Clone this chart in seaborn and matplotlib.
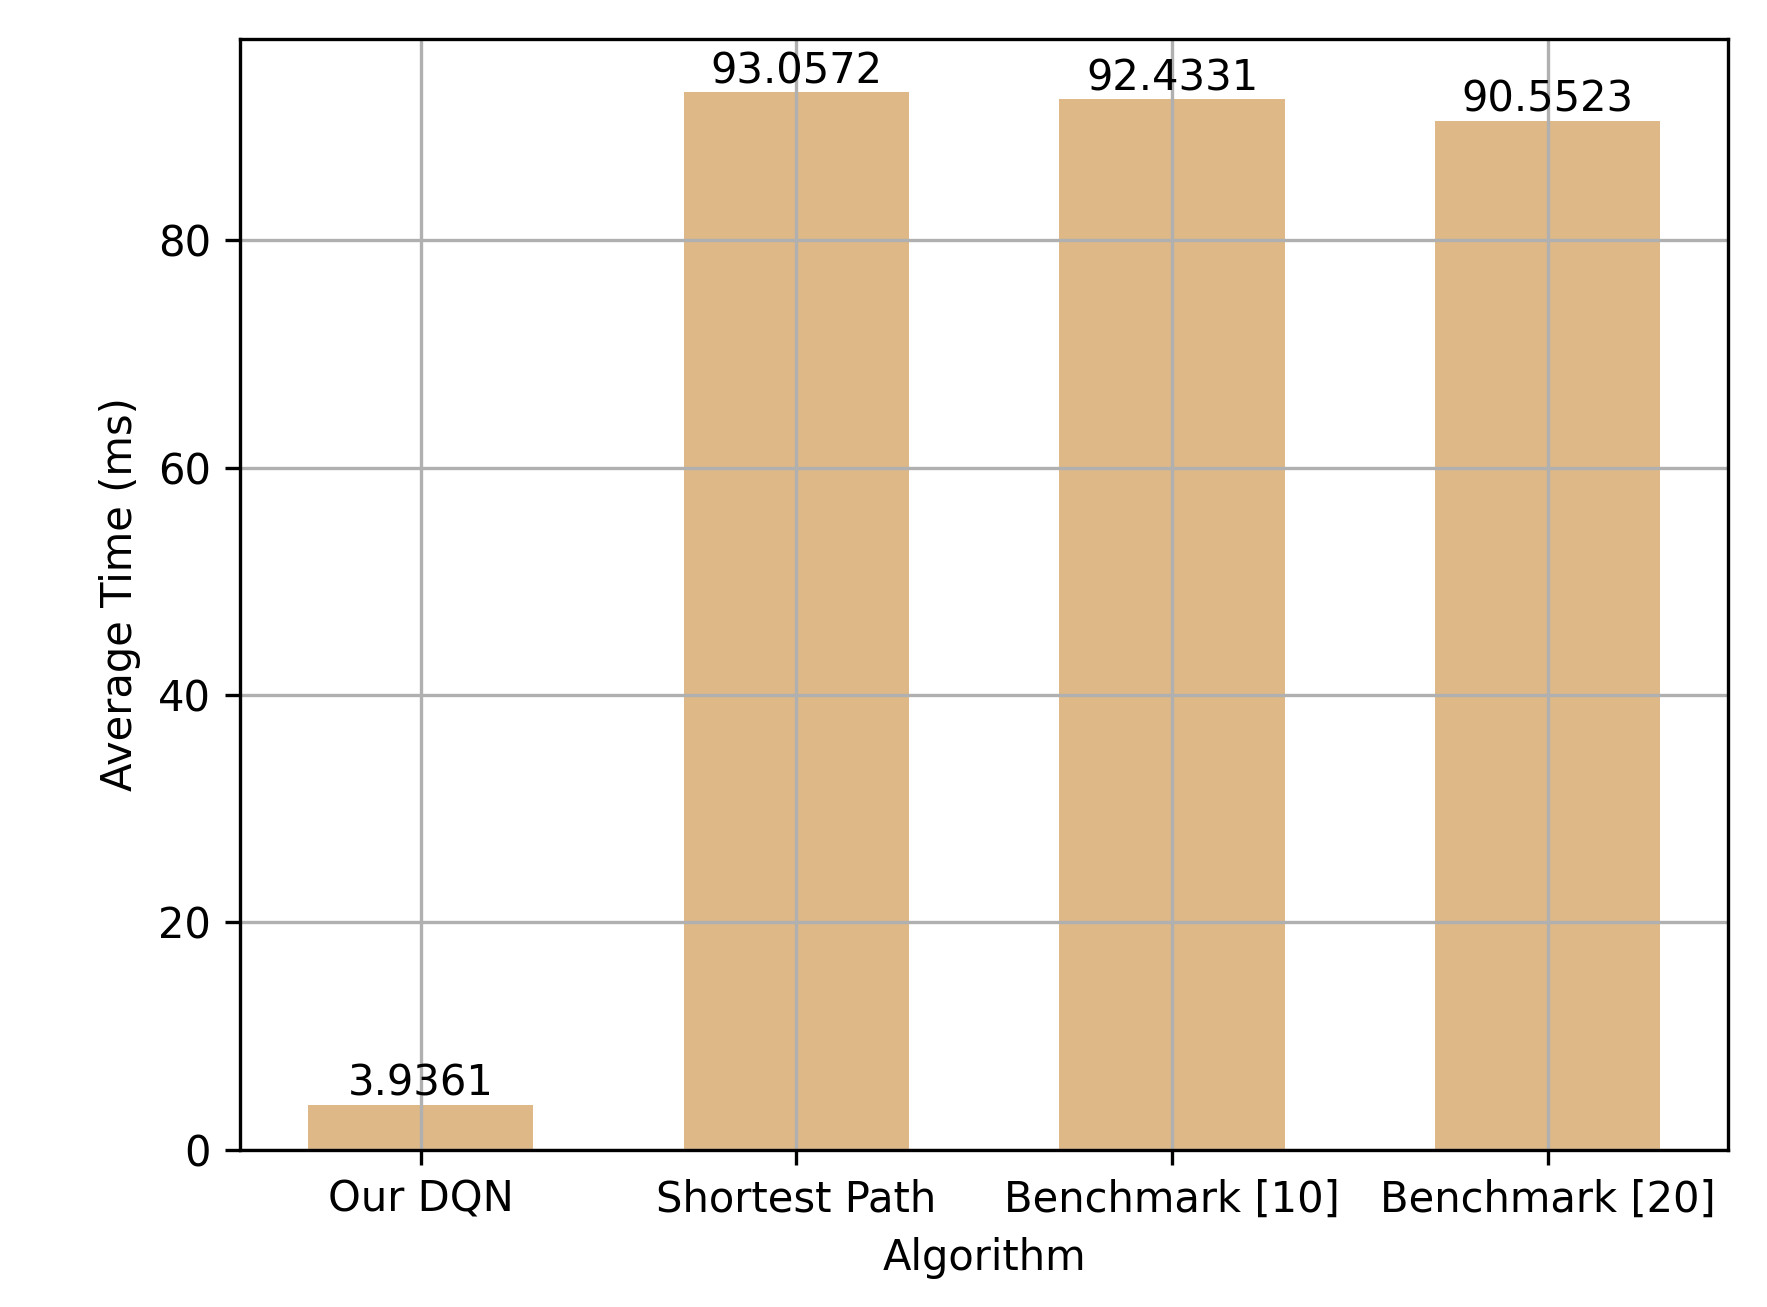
import matplotlib
matplotlib.use('agg')
import matplotlib.pyplot as plt
import pandas as pd
import seaborn as sns

algorithms = ['Our DQN', 'Shortest Path', 'Benchmark [10]', 'Benchmark [20]']
avg_time = [3.9361, 93.0572, 92.4331, 90.5523]

df = pd.DataFrame({'Algorithm': algorithms, 'Average Time (ms)': avg_time})

fig, ax = plt.subplots(figsize=(1767 / 300, 1307 / 300), dpi=300)
sns.barplot(x='Algorithm', y='Average Time (ms)', data=df, color='#DEB887',
            saturation=1, width=0.6, ax=ax)
ax.bar_label(ax.containers[0], labels=[f'{v:.4f}' for v in avg_time])
ax.grid(True)
ax.set_xlim(-0.48, 3.48)
ax.set_xlabel('Algorithm')
ax.set_ylabel('Average Time (ms)')
plt.subplots_adjust(left=0.136, right=0.978, top=0.970, bottom=0.1205)

plt.savefig('out.png', dpi=300)
plt.close()
